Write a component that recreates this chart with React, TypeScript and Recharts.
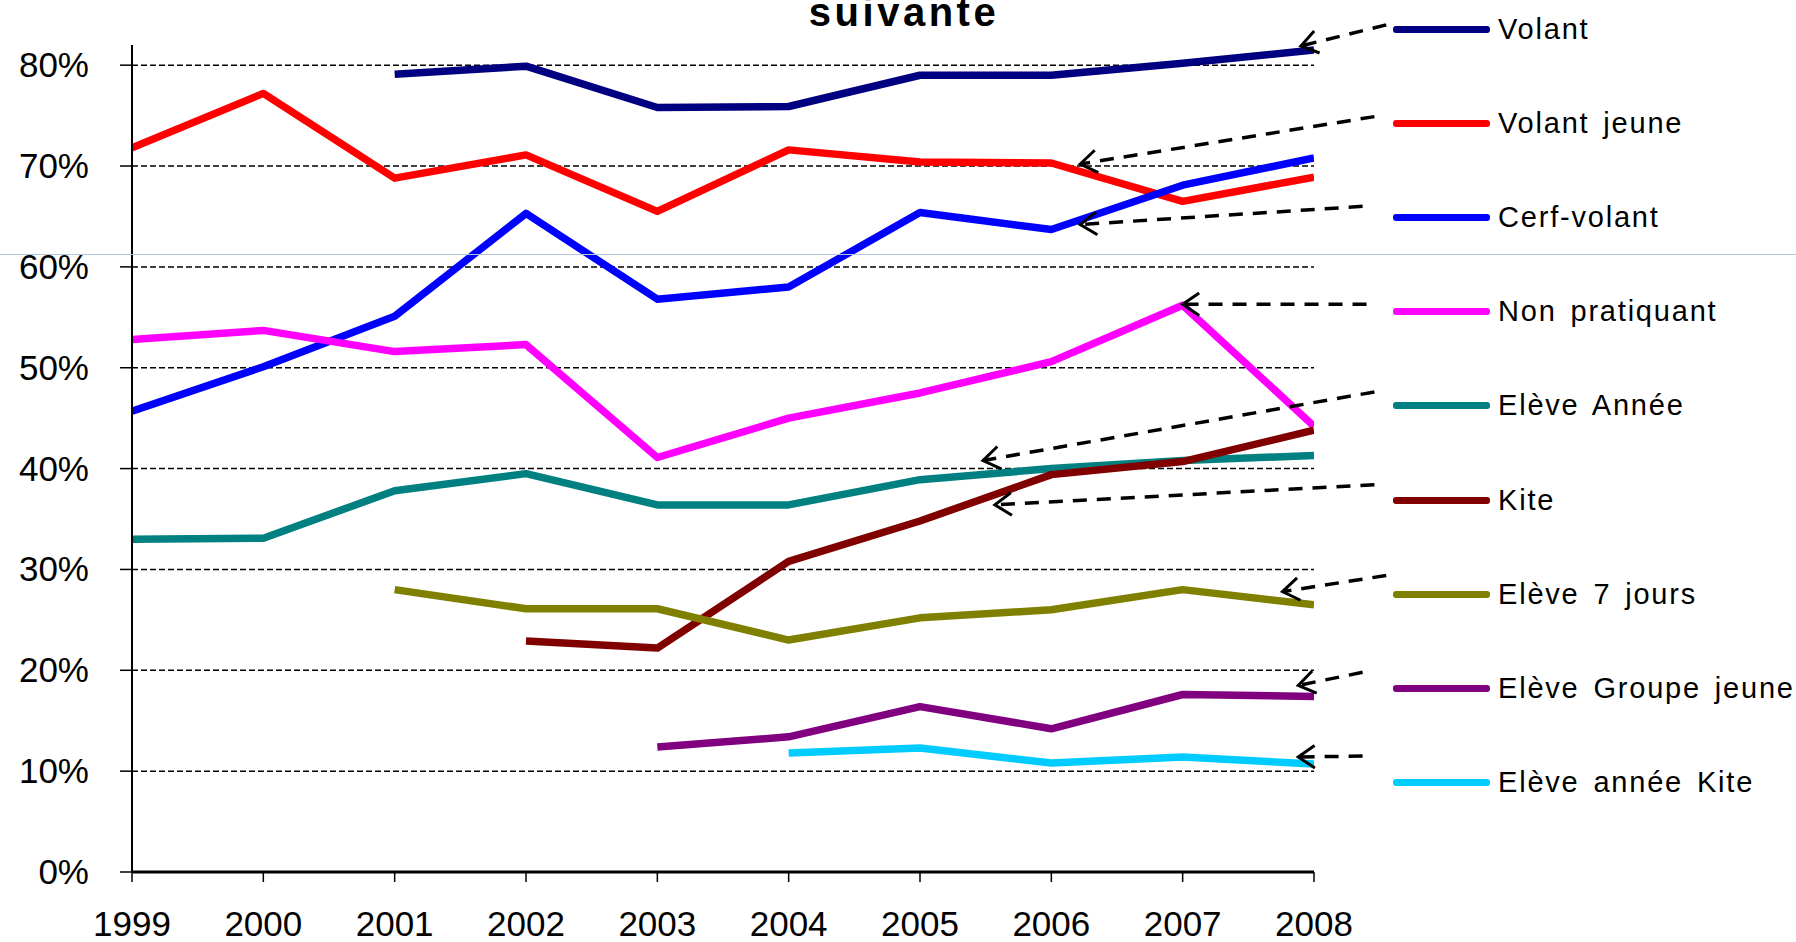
import React from "react";
import {
  LineChart,
  Line,
  XAxis,
  YAxis,
  ReferenceLine,
} from "recharts";

// ---------- data ----------
const years = [1999, 2000, 2001, 2002, 2003, 2004, 2005, 2006, 2007, 2008];
const yTicks = [0, 10, 20, 30, 40, 50, 60, 70, 80];

const seriesNames = [
  "Volant",
  "Volant jeune",
  "Cerf-volant",
  "Non pratiquant",
  "Elève Année",
  "Kite",
  "Elève 7 jours",
  "Elève Groupe jeune",
  "Elève année Kite",
];
const seriesColors = [
  "#000080",
  "#FF0000",
  "#0000FF",
  "#FF00FF",
  "#008080",
  "#800000",
  "#808000",
  "#800080",
  "#00CCFF",
];

const volant = [null, null, 79.1, 79.9, 75.8, 75.9, 79.0, 79.0, 80.2, 81.5];
const volantJeune = [71.8, 77.2, 68.8, 71.1, 65.5, 71.6, 70.4, 70.3, 66.5, 68.9];
const cerfVolant = [45.7, 50.1, 55.1, 65.3, 56.8, 58.0, 65.4, 63.7, 68.1, 70.8];
const nonPratiquant = [52.8, 53.7, 51.6, 52.3, 41.1, 45.0, 47.5, 50.6, 56.2, 44.2];
const eleveAnnee = [33.0, 33.1, 37.8, 39.5, 36.4, 36.4, 38.9, 40.0, 40.8, 41.3];
const kite = [null, null, null, 22.9, 22.2, 30.8, 34.8, 39.4, 40.7, 43.8];
const eleve7Jours = [null, null, 28.0, 26.1, 26.1, 23.0, 25.2, 26.0, 28.0, 26.5];
const eleveGroupeJeune = [null, null, null, null, 12.4, 13.4, 16.4, 14.2, 17.6, 17.4];
const eleveAnneeKite = [null, null, null, null, null, 11.8, 12.3, 10.8, 11.4, 10.7];

const seriesValues = [
  volant,
  volantJeune,
  cerfVolant,
  nonPratiquant,
  eleveAnnee,
  kite,
  eleve7Jours,
  eleveGroupeJeune,
  eleveAnneeKite,
];

// annotation arrows: tail [year, value] -> tip [year, value]
const arrowTails = [
  [2008.55, 84.0],
  [2008.46, 74.9],
  [2008.37, 66.0],
  [2008.4, 56.3],
  [2008.46, 47.6],
  [2008.46, 38.4],
  [2008.55, 29.4],
  [2008.37, 19.8],
  [2008.37, 11.5],
];
const arrowTips = [
  [2007.9, 81.9],
  [2006.22, 70.2],
  [2006.22, 64.2],
  [2007.0, 56.3],
  [2005.48, 40.8],
  [2005.57, 36.4],
  [2007.76, 27.8],
  [2007.88, 18.5],
  [2007.88, 11.4],
];

const titleText = "suivante";

// ---------- build table ----------
const tableData = years.map((year, i) => {
  const row: Record<string, number | null> = { year };
  seriesValues.forEach((vals, s) => {
    row["s" + s] = vals[i];
  });
  return row;
});

const FONT = "'Liberation Sans', Arial, sans-serif";

const ArrowShape = (props: any) => {
  const { x1, y1, x2, y2 } = props;
  if ([x1, y1, x2, y2].some((v) => typeof v !== "number" || isNaN(v))) return null;
  const ang = Math.atan2(y1 - y2, x1 - x2);
  const len = 20;
  const spread = 0.6;
  const ax1 = x2 + len * Math.cos(ang + spread);
  const ay1 = y2 + len * Math.sin(ang + spread);
  const ax2 = x2 + len * Math.cos(ang - spread);
  const ay2 = y2 + len * Math.sin(ang - spread);
  return (
    <g>
      <line
        x1={x1}
        y1={y1}
        x2={x2}
        y2={y2}
        stroke="#000"
        strokeWidth={3.5}
        strokeDasharray="14 10"
      />
      <polyline
        points={`${ax1},${ay1} ${x2},${y2} ${ax2},${ay2}`}
        fill="none"
        stroke="#000"
        strokeWidth={3}
      />
    </g>
  );
};

const YTick = (props: any) => {
  const { x, y, payload } = props;
  return (
    <text
      x={x}
      y={y}
      dy={12}
      textAnchor="end"
      fontFamily={FONT}
      fontSize={35}
      fill="#000"
    >
      {payload.value + "%"}
    </text>
  );
};

const XTick = (props: any) => {
  const { x, y, payload } = props;
  return (
    <text
      x={x}
      y={y}
      dy={33}
      textAnchor="middle"
      fontFamily={FONT}
      fontSize={35}
      fill="#000"
    >
      {payload.value}
    </text>
  );
};

export default function App() {
  return (
    <div
      style={{
        position: "absolute",
        left: 0,
        top: 0,
        width: 1796,
        height: 942,
        background: "#fff",
        overflow: "hidden",
      }}
    >
      <LineChart
        width={1796}
        height={942}
        data={tableData}
        margin={{ top: 45, right: 482, bottom: 10, left: 32 }}
      >
        <XAxis
          dataKey="year"
          type="number"
          domain={[1999, 2008]}
          ticks={years}
          allowDataOverflow={true}
          height={60}
          axisLine={{ stroke: "#000", strokeWidth: 3 }}
          tickLine={{ stroke: "#000", strokeWidth: 1.5 }}
          tickSize={10}
          tickMargin={21}
          tick={<XTick />}
          interval={0}
        />
        <YAxis
          type="number"
          domain={[0, 82]}
          ticks={yTicks}
          allowDataOverflow={true}
          width={100}
          axisLine={{ stroke: "#000", strokeWidth: 2 }}
          tickLine={{ stroke: "#000", strokeWidth: 1.5 }}
          tickSize={12}
          tickMargin={31}
          tick={<YTick />}
          interval={0}
        />
        {yTicks
          .filter((t) => t > 0)
          .map((t) => (
            <ReferenceLine
              key={"grid" + t}
              y={t}
              stroke="#000"
              strokeWidth={1.5}
              strokeDasharray="6 3"
            />
          ))}
        {seriesNames.map((name, s) => (
          <Line
            key={name}
            name={name}
            dataKey={"s" + s}
            type="linear"
            stroke={seriesColors[s]}
            strokeWidth={7.5}
            strokeLinejoin="round"
            dot={false}
            activeDot={false}
            connectNulls={false}
            isAnimationActive={false}
          />
        ))}
        {arrowTails.map((tail, i) => (
          <ReferenceLine
            key={"arrow" + i}
            ifOverflow="visible"
            segment={[
              { x: tail[0], y: tail[1] },
              { x: arrowTips[i][0], y: arrowTips[i][1] },
            ]}
            shape={ArrowShape}
          />
        ))}
      </LineChart>

      {/* faint horizontal rule across the picture */}
      <div
        style={{
          position: "absolute",
          left: 0,
          top: 254,
          width: 1796,
          height: 0,
          borderTop: "1.5px solid #b3c6e0",
        }}
      />

      {/* title (upper part cut off) */}
      <div
        style={{
          position: "absolute",
          left: 0,
          width: 1808,
          top: -8,
          textAlign: "center",
          fontFamily: FONT,
          fontWeight: "bold",
          fontSize: 40,
          letterSpacing: 3.5,
          lineHeight: "40px",
          color: "#000",
        }}
      >
        {titleText}
      </div>

      {/* legend */}
      {seriesNames.map((name, s) => (
        <div
          key={"lg" + s}
          style={{
            position: "absolute",
            left: 1393,
            top: 29 + s * 94.2 - 20,
            height: 40,
            display: "flex",
            alignItems: "center",
            whiteSpace: "nowrap",
          }}
        >
          <div
            style={{
              width: 97,
              height: 7,
              borderRadius: 3,
              background: seriesColors[s],
              marginRight: 8,
            }}
          />
          <span
            style={{
              fontFamily: FONT,
              fontSize: 29,
              letterSpacing: 1.8,
              wordSpacing: 4,
              color: "#000",
            }}
          >
            {name}
          </span>
        </div>
      ))}
    </div>
  );
}
